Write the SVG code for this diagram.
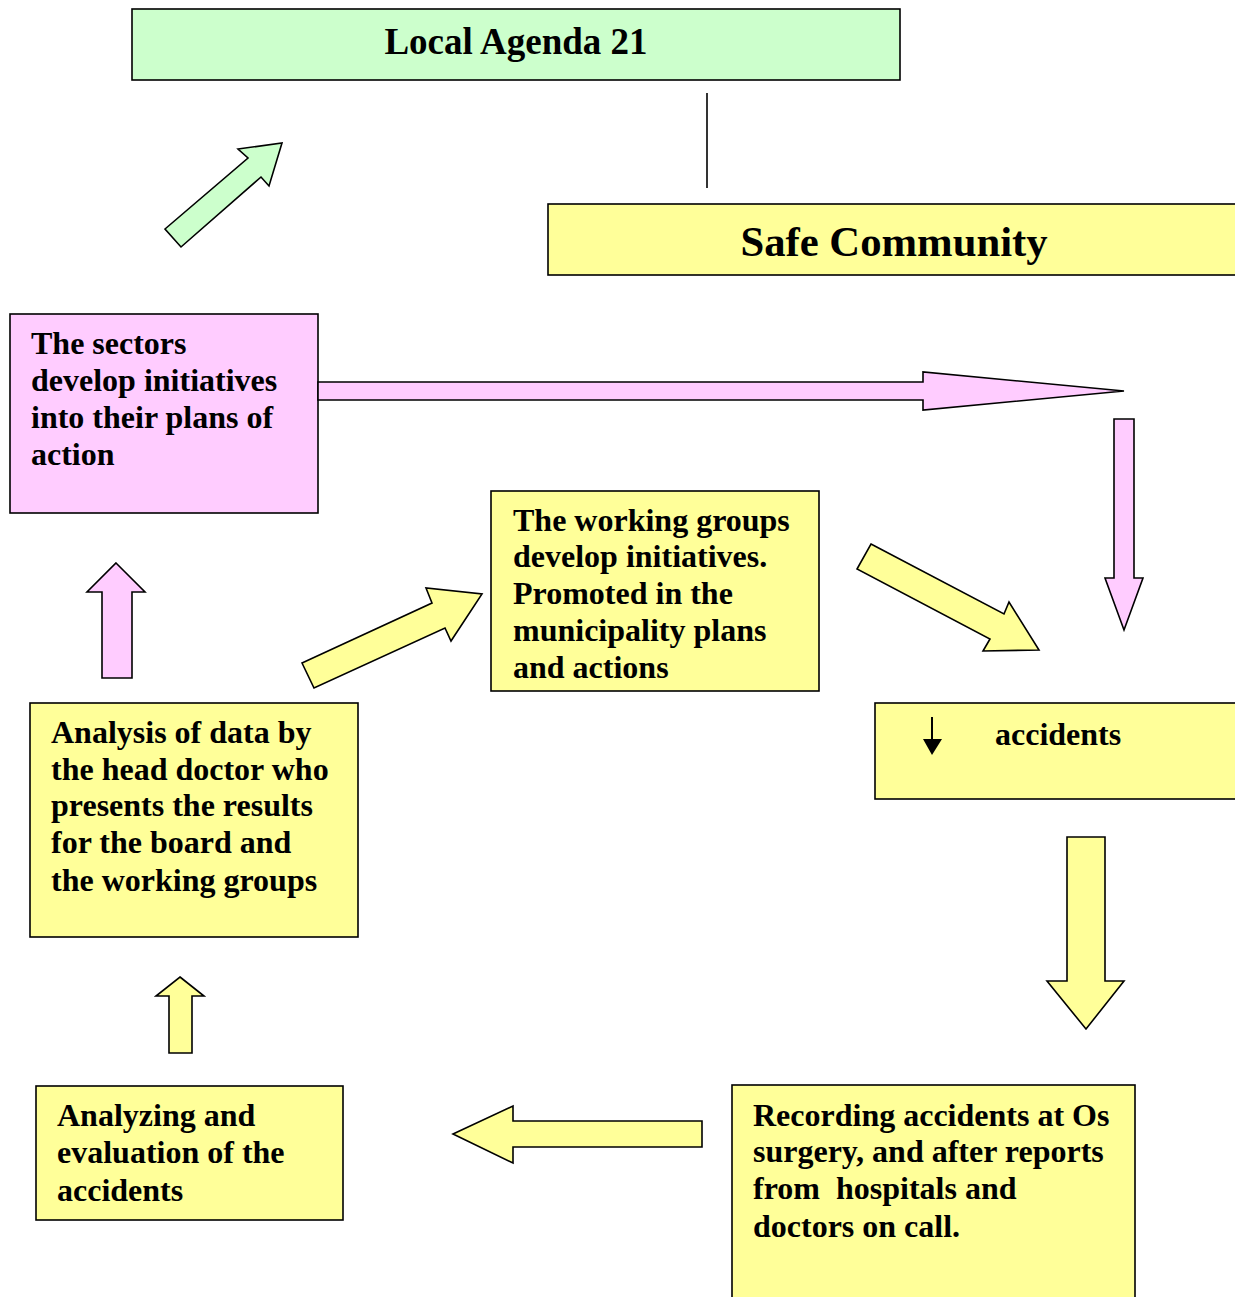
<svg xmlns="http://www.w3.org/2000/svg" width="1235" height="1297" viewBox="0 0 1235 1297">
<style>
.box{stroke:#000;stroke-width:1.6}
.y{fill:#ffff99}
.p{fill:#ffccff}
.g{fill:#ccffcc}
.arr{stroke:#000;stroke-width:1.6;stroke-linejoin:miter}
text{font-family:"Liberation Serif","Times New Roman",serif;font-weight:bold;fill:#000}
.t{font-size:32px}
</style>
<rect width="1235" height="1297" fill="#fff"/>
<g id="local-agenda">
<rect class="box g" x="132" y="9" width="768" height="71"/>
<text x="516" y="54" font-size="37" text-anchor="middle">Local Agenda 21</text>
</g>
<g id="safe-community">
<rect class="box y" x="548" y="204" width="700" height="71"/>
<text x="894" y="256" font-size="42.7" text-anchor="middle">Safe Community</text>
</g>
<g id="sectors">
<rect class="box p" x="10" y="314" width="308" height="199"/>
<text class="t" x="31"><tspan x="31" y="354">The sectors</tspan><tspan x="31" y="391">develop initiatives</tspan><tspan x="31" y="428">into their plans of</tspan><tspan x="31" y="465">action</tspan></text>
</g>
<g id="working-groups">
<rect class="box y" x="491" y="491" width="328" height="200"/>
<text class="t"><tspan x="513" y="531">The working groups</tspan><tspan x="513" y="567">develop initiatives.</tspan><tspan x="513" y="604">Promoted in the</tspan><tspan x="513" y="641">municipality plans</tspan><tspan x="513" y="678">and actions</tspan></text>
</g>
<g id="accidents">
<rect class="box y" x="875" y="703" width="370" height="96"/>
<line x1="932" y1="717" x2="932" y2="742" stroke="#000" stroke-width="2"/>
<polygon points="923,739 942,739 932,755" fill="#000"/>
<text class="t" x="995" y="745">accidents</text>
</g>
<g id="analysis">
<rect class="box y" x="30" y="703" width="328" height="234"/>
<text class="t"><tspan x="51" y="743">Analysis of data by</tspan><tspan x="51" y="780">the head doctor who</tspan><tspan x="51" y="816">presents the results</tspan><tspan x="51" y="853">for the board and</tspan><tspan x="51" y="891">the working groups</tspan></text>
</g>
<g id="analyzing">
<rect class="box y" x="36" y="1086" width="307" height="134"/>
<text class="t"><tspan x="57" y="1126">Analyzing and</tspan><tspan x="57" y="1163">evaluation of the</tspan><tspan x="57" y="1201">accidents</tspan></text>
</g>
<g id="recording">
<rect class="box y" x="732" y="1085" width="403" height="230"/>
<text class="t" style="white-space:pre"><tspan x="753" y="1126">Recording accidents at Os</tspan><tspan x="753" y="1162">surgery, and after reports</tspan><tspan x="753" y="1199">from  hospitals and</tspan><tspan x="753" y="1237">doctors on call.</tspan></text>
</g>
<g id="connectors">
<line x1="707" y1="93" x2="707" y2="188" stroke="#000" stroke-width="1.6"/>
<polygon class="arr g" points="165,229 248,158 238,149 282,143 269,186 261,177 181,247"/>
<polygon class="arr p" points="318,382 923,382 923,372 1124,391 923,410 923,400 318,400"/>
<polygon class="arr p" points="1114,419 1134,419 1134,578 1143,578 1124,630 1105,578 1114,578"/>
<polygon class="arr y" points="871,544 1004,614 1009,602 1039,650 983,651 990,639 857,569"/>
<polygon class="arr y" points="302,663 432,603 426,588 482,594 451,641 445,628 314,688"/>
<polygon class="arr p" points="116,563 145,592 132,592 132,678 102,678 102,592 87,592"/>
<polygon class="arr y" points="1067,837 1105,837 1105,981 1124,981 1086,1029 1047,981 1067,981"/>
<polygon class="arr y" points="453,1134 513,1106 513,1121 702,1121 702,1147 513,1147 513,1163"/>
<polygon class="arr y" points="180,977 204,996 192,996 192,1053 169,1053 169,996 156,996"/>
</g>
</svg>
